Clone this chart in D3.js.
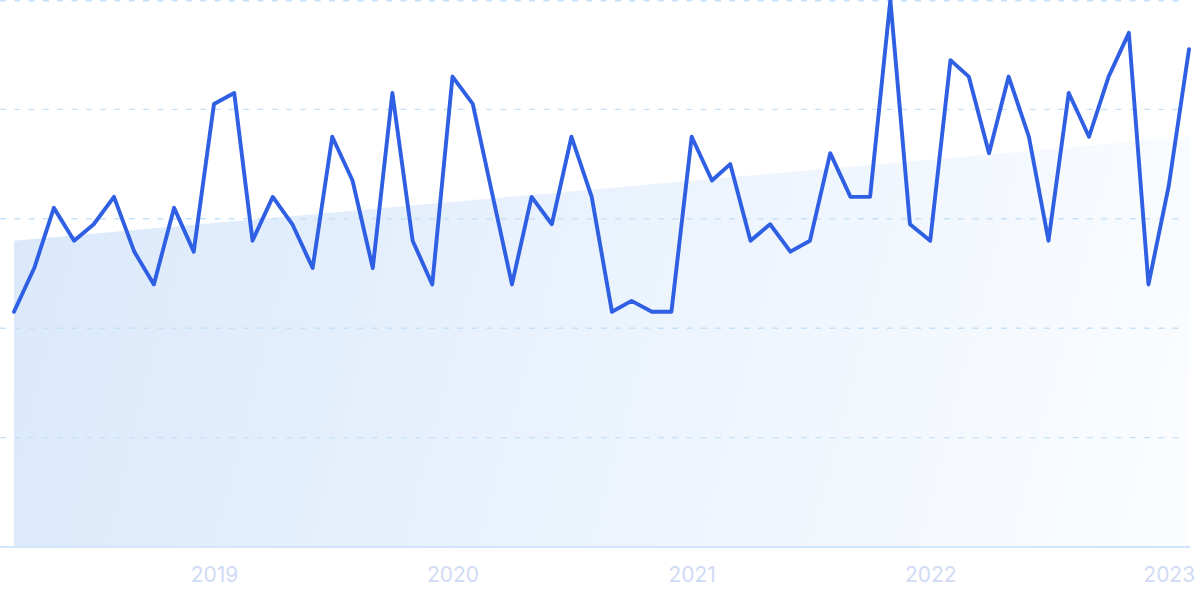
<!DOCTYPE html>
<html>
<head>
<meta charset="utf-8">
<script src="https://cdn.jsdelivr.net/npm/d3@7"></script>
<style>
  html, body { margin: 0; padding: 0; background: #ffffff; overflow: hidden; }
  svg { display: block; }
</style>
</head>
<body>
<svg id="chart" width="1200" height="599"></svg>
<script>
// ---- data ----
const months = [
  "2018-03","2018-04","2018-05","2018-06","2018-07","2018-08","2018-09","2018-10","2018-11","2018-12",
  "2019-01","2019-02","2019-03","2019-04","2019-05","2019-06","2019-07","2019-08","2019-09","2019-10","2019-11","2019-12",
  "2020-01","2020-02","2020-03","2020-04","2020-05","2020-06","2020-07","2020-08","2020-09","2020-10","2020-11","2020-12",
  "2021-01","2021-02","2021-03","2021-04","2021-05","2021-06","2021-07","2021-08","2021-09","2021-10","2021-11","2021-12",
  "2022-01","2022-02","2022-03","2022-04","2022-05","2022-06","2022-07","2022-08","2022-09","2022-10","2022-11","2022-12",
  "2023-01","2023-02"
];
const values = [
  43,51,62,56,59,64,54,48,62,54,
  81,83,56,64,59,51,75,67,51,83,56,48,
  86,81,65,48,64,59,75,64,43,45,43,43,
  75,67,70,56,59,54,56,72,64,64,100,59,
  56,89,86,72,86,75,56,83,75,86,94,48,
  66,91
];
const trendValues = [56, 75];          // trend level at first and last month
const yTicks = [20, 40, 60, 80, 100];
const xTickLabels = ["2019","2020","2021","2022","2023"];

// ---- setup ----
const parse = d3.timeParse("%Y-%m");
const dates = months.map(parse);
const svg = d3.select("#chart");

const x = d3.scaleTime()
  .domain([dates[0], dates[dates.length - 1]])
  .range([14, 1189]);
const y = d3.scaleLinear().domain([0, 100]).range([547, 0]);

// gradient
const defs = svg.append("defs");
const grad = defs.append("linearGradient")
  .attr("id", "areaGrad")
  .attr("gradientUnits", "userSpaceOnUse")
  .attr("x1", x(dates[0])).attr("y1", y(trendValues[0]))
  .attr("x2", x(dates[dates.length - 1])).attr("y2", y(0));
grad.append("stop").attr("offset", "0%").attr("stop-color", "#dbe9fb");
grad.append("stop").attr("offset", "100%").attr("stop-color", "#fbfdff");

// trend area
const trendData = [
  { d: dates[0], v: trendValues[0] },
  { d: dates[dates.length - 1], v: trendValues[1] }
];
svg.append("path")
  .datum(trendData)
  .attr("fill", "url(#areaGrad)")
  .attr("d", d3.area().x(d => x(d.d)).y0(y(0)).y1(d => y(d.v)));

// grid lines
svg.append("g")
  .selectAll("line")
  .data(yTicks)
  .join("line")
  .attr("x1", 0).attr("x2", 1186)
  .attr("y1", d => Math.max(0.75, y(d))).attr("y2", d => Math.max(0.75, y(d)))
  .attr("stroke", "#c6e1fa")
  .attr("stroke-width", 1.4)
  .attr("stroke-dasharray", "6 8.3");

// baseline
svg.append("line")
  .attr("x1", 0).attr("x2", 1190)
  .attr("y1", y(0)).attr("y2", y(0))
  .attr("stroke", "#d3e5fb")
  .attr("stroke-width", 2);

// x axis labels
const tickDates = xTickLabels.map(t => d3.timeParse("%Y")(t));
const xAxis = d3.axisBottom(x)
  .tickValues(tickDates)
  .tickFormat(d3.timeFormat("%Y"))
  .tickSize(0)
  .tickPadding(0);
const gx = svg.append("g").call(xAxis);
gx.select(".domain").remove();
gx.selectAll("text")
  .attr("y", 582)
  .attr("dy", 0)
  .attr("fill", "#d0dbf5")
  .style("font-family", "Inter, 'Noto Sans', sans-serif")
  .style("font-size", "21px");

// line
svg.append("path")
  .datum(values.map((v, i) => ({ d: dates[i], v })))
  .attr("fill", "none")
  .attr("stroke", "#2f5fe3")
  .attr("stroke-width", 3.9)
  .attr("stroke-linejoin", "round")
  .attr("stroke-linecap", "round")
  .attr("d", d3.line().x(d => x(d.d)).y(d => y(d.v)));
</script>
</body>
</html>
